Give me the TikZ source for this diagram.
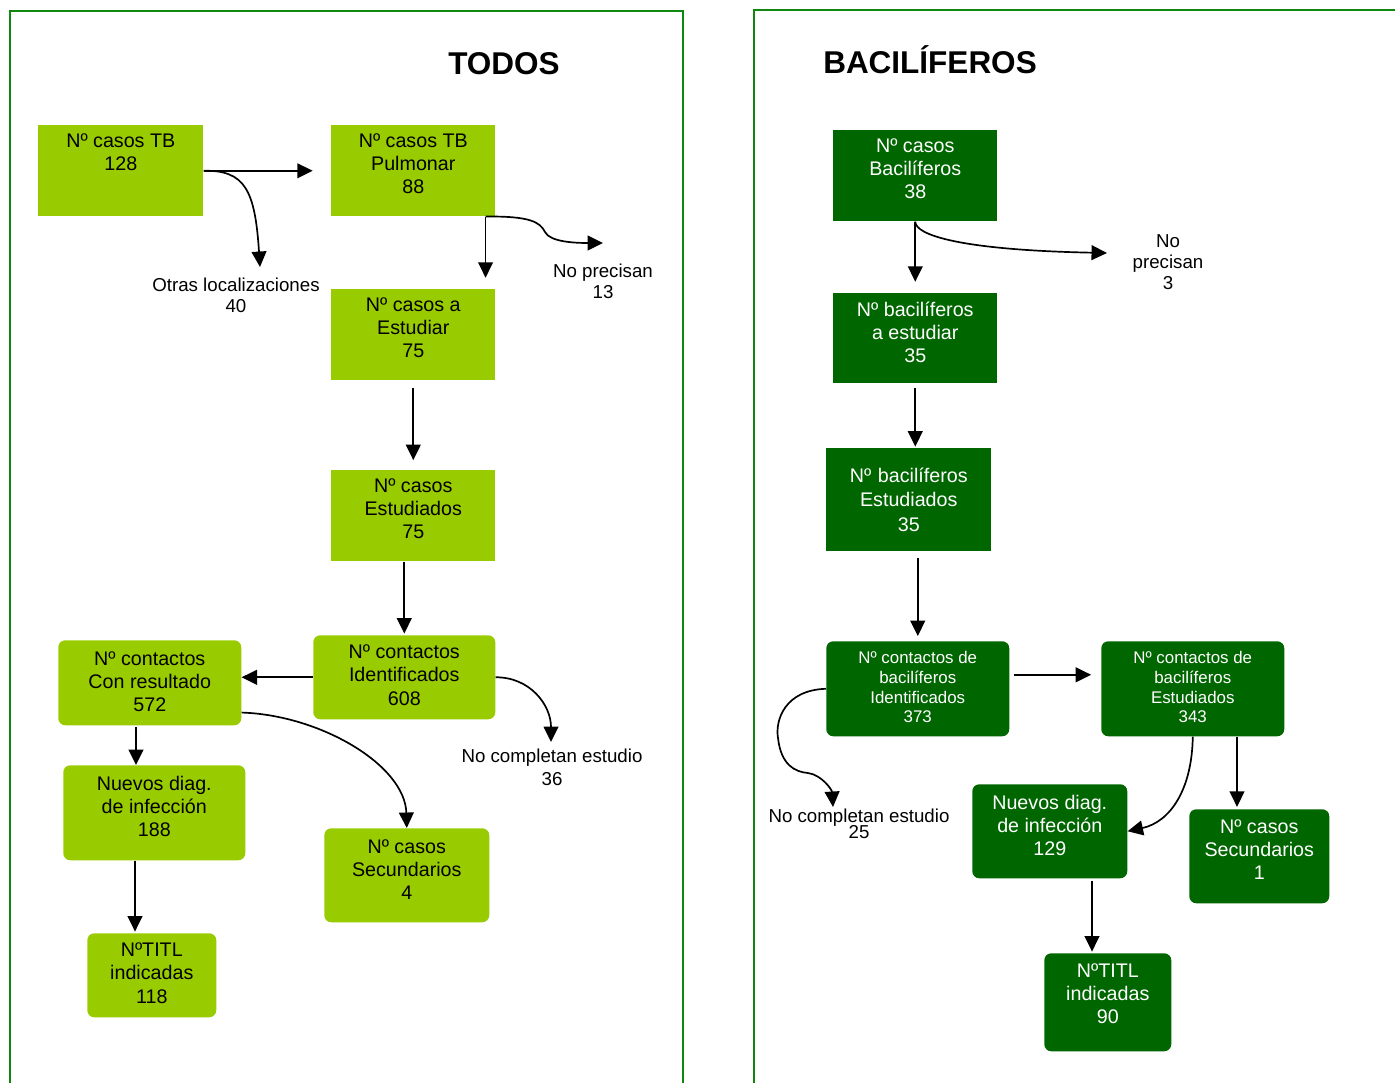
\documentclass[tikz,border=0pt]{standalone}
\usepackage{fontspec}
\setmainfont{Liberation Sans}
\usetikzlibrary{arrows.meta,calc}

\definecolor{verdeclaro}{RGB}{153,204,0}
\definecolor{verdeoscuro}{RGB}{0,102,0}
\definecolor{marco}{RGB}{16,136,16}

\newlength\pxl
\setlength\pxl{0.025cm}
% texto pegado arriba de la caja
\newcommand{\arriba}[4][6pt]{\parbox[c][#3\pxl][t]{#2\pxl}{\centering\vspace*{#1}#4}}

\tikzset{
	caja/.style={inner sep=0pt, anchor=north west, font=\fontsize{14}{16.4}\selectfont},
	claro/.style={caja, fill=verdeclaro},
	oscuro/.style={caja, fill=verdeoscuro, text=white},
	redonda/.style={rounded corners=5pt},
	chica/.style={font=\fontsize{12}{14.2}\selectfont},
	flecha/.style={-{Triangle[length=11pt,width=10.5pt]}, line width=1.2pt},
	etiqueta/.style={align=center, inner sep=0pt, anchor=north, font=\fontsize{13.3}{15}\selectfont},
	titulo/.style={anchor=base, font=\fontsize{22.4}{26}\selectfont\bfseries},
	panel/.style={draw=marco, line width=1.4pt},
}

\begin{document}
\begin{tikzpicture}[x=0.025cm, y=-0.025cm]
	\useasboundingbox (0,0) rectangle (1395,1083);
	\draw[panel] (10,1095) -- (10,11) -- (683,11) -- (683,1095);
	\draw[panel] (754,1095) -- (754,10) -- (1405,10);

	% TODOS
	\node[titulo] (todos) at (504,75) {TODOS};
	\node[claro] (tb) at (38,125) {\arriba{165}{91}{Nº casos TB\\128}};
	\node[claro] (pulmonar) at (331,125) {\arriba{164}{91}{Nº casos TB\\Pulmonar\\88}};
	\node[claro] (aestudiar) at (331,289) {\arriba{164}{91}{Nº casos a\\Estudiar\\75}};
	\node[claro] (estudiados) at (331,470) {\arriba{164}{91}{Nº casos\\Estudiados\\75}};
	\node[claro, redonda] (identif) at (313,635) {\arriba[7pt]{182}{84}{Nº contactos\\Identificados\\608}};
	\node[claro, redonda] (resultado) at (58,640) {\arriba[8pt]{183}{85}{Nº contactos\\Con resultado\\572}};
	\node[claro, redonda] (nuevos) at (63,765) {\arriba[8pt]{182}{95}{Nuevos diag.\\de infección\\188}};
	\node[claro, redonda] (titl) at (87,933) {\arriba[7pt]{129}{84}{NºTITL\\indicadas\\118}};
	\node[claro, redonda] (secund) at (324,828) {\arriba[8pt]{165}{94}{Nº casos\\Secundarios\\4}};

	\node[etiqueta] (otras) at (236,278) {Otras localizaciones\\40};
	\node[etiqueta] (noprec) at (603,264) {No precisan\\13};
	\node[etiqueta] (nocomp) at (552,749) {No completan estudio\\[1.3pt]36};

	\coordinate (otrasfin) at (260,267);
	\coordinate (pulabajo) at ($(pulmonar.south east)+(-10,0)$);
	\coordinate (noprecfin) at (603,243);
	\coordinate (nocompfin) at (551,742);

	\draw[flecha, shorten >=13pt] (tb.east) -- (tb.east -| pulmonar.west);
	\draw[flecha] (tb.east) .. controls (245,170) and (255,190) .. (otrasfin);
	\draw[flecha, shorten >=8pt] (pulabajo) -- (pulabajo |- aestudiar.north);
	\draw[flecha] (pulabajo) .. controls (530,216) and (540,222) .. (545,232) .. controls (550,242) and (575,243) .. (noprecfin);
	\draw[flecha, shorten <=5pt, shorten >=7pt] (aestudiar) -- (estudiados);
	\draw[flecha, shorten >=1pt] (identif.north |- estudiados.south) -- (identif.north);
	\draw[flecha] (identif.west) -- (identif.west -| resultado.east);
	\draw[flecha] (identif.east) .. controls (530,677) and (551,705) .. (nocompfin);
	\draw[flecha, shorten <=1pt] (136,0 |- resultado.south) -- (136,0 |- nuevos.north);
	\draw[flecha, shorten >=1pt] (135,0 |- nuevos.south) -- (135,0 |- titl.north);
	\draw[flecha] ($(resultado.south east)+(0,-13)$) .. controls (320,715) and (405,765) .. (secund.north);

	% BACILIFEROS
	\node[titulo] (bacil) at (930,74) {BACILÍFEROS};
	\node[oscuro] (bacilif) at (833,130) {\arriba{164}{91}{Nº casos\\Bacilíferos\\38}};
	\node[oscuro] (bestudiar) at (833,293) {\arriba{164}{90}{Nº bacilíferos\\a estudiar\\35}};
	\node[oscuro, align=center, text width=165\pxl, minimum height=103\pxl, font=\fontsize{14}{17.4}\selectfont] (bestudiados) at (826,448) {Nº bacilíferos\\Estudiados\\35};
	\node[oscuro, redonda, chica] (cidentif) at (826,641) {\arriba[6.8pt]{183}{95}{Nº contactos de\\bacilíferos\\Identificados\\373}};
	\node[oscuro, redonda, chica] (cestud) at (1101,641) {\arriba[6.8pt]{183}{95}{Nº contactos de\\bacilíferos\\Estudiados\\343}};
	\node[oscuro, redonda] (rnuevos) at (972,784) {\arriba[7.5pt]{155}{94}{Nuevos diag.\\de infección\\129}};
	\node[oscuro, redonda] (rsecund) at (1189,809) {\arriba[7.5pt]{140}{94}{Nº casos\\Secundarios\\1}};
	\node[oscuro, redonda] (rtitl) at (1044,953) {\arriba[7.5pt]{127}{98}{NºTITL\\indicadas\\90}};

	\node[etiqueta] (noprec2) at (1168,234) {No\\precisan\\3};
	\node[etiqueta] (nocomp2) at (859,809) {No completan estudio\\[-3.6pt]25};

	\coordinate (noprecfin2) at (1107,253);
	\coordinate (nocompfin2) at (833,807);
	\coordinate (cid1) at ($(cidentif.east)+(0,-14)$);

	\draw[flecha, shorten >=8pt] (bacilif) -- (bestudiar);
	\draw[flecha] (bacilif.south) .. controls (915,235) and (960,250) .. (noprecfin2);
	\draw[flecha, shorten <=3.5pt, shorten >=1pt] (bestudiar.south) -- (bestudiar.south |- bestudiados.north);
	\draw[flecha, shorten <=4.5pt, shorten >=3.5pt] (cidentif.north |- bestudiados.south) -- (cidentif.north);
	\draw[flecha, shorten <=3pt, shorten >=7pt] (cid1) -- (cid1 -| cestud.west);
	\draw[flecha] (cidentif.west) .. controls (785,690) and (775,720) .. (778,738) .. controls (781,765) and (795,772) .. (808,773) .. controls (822,775) and (832,790) .. (nocompfin2);
	\draw[flecha, shorten >=1.5pt] (1237,0 |- cestud.south) -- (1237,0 |- rsecund.north);
	\draw[flecha] (cestud.south) .. controls (1192,790) and (1170,822) .. (rnuevos.east);
	\draw[flecha, shorten <=1.5pt, shorten >=1pt] (1092,0 |- rnuevos.south) -- (1092,0 |- rtitl.north);
\end{tikzpicture}
\end{document}
